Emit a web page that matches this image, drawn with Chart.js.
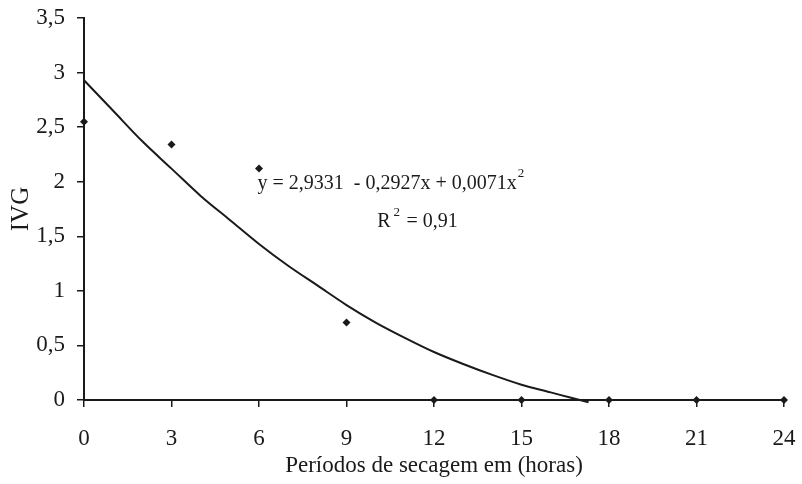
<!DOCTYPE html>
<html>
<head>
<meta charset="utf-8">
<script src="https://cdn.jsdelivr.net/npm/chart.js@4.4.0/dist/chart.umd.min.js"></script>
<style>
  html, body { margin: 0; padding: 0; background: #ffffff; }
  #wrap { width: 802px; height: 484px; }
</style>
</head>
<body>
<div id="wrap"><canvas id="c" width="802" height="484"></canvas></div>
<script>
const periods = [0, 3, 6, 9, 12, 15, 18, 21, 24];
const ivg = [2.55, 2.34, 2.12, 0.71, 0, 0, 0, 0, 0];

// Fitted trend line
const trendX = [0, 1, 2, 3, 4, 5, 6, 7, 8, 9, 10, 11, 12, 13, 14, 15, 16, 16.7, 17.3];
const trendY = [2.93, 2.65, 2.37, 2.12, 1.87, 1.65, 1.43, 1.23, 1.05, 0.87, 0.71, 0.57, 0.44, 0.33, 0.23, 0.14, 0.07, 0.02, -0.02];

const xTickStep = 3;
const yTickStep = 0.5;
const xTitle = 'Períodos de secagem em (horas)';
const yTitle = 'IVG';
const eqText = 'y = 2,9331  - 0,2927x + 0,0071x';
const r2Text = 'R';
const r2Value = ' = 0,91';

const FONT = '"Liberation Serif", "Times New Roman", serif';
const INK = '#1a1a1a';

const annotation = {
  id: 'annotation',
  afterDraw(chart) {
    const ctx = chart.ctx;
    const xs = chart.scales.x, ys = chart.scales.y;
    ctx.save();
    ctx.fillStyle = INK;
    ctx.textBaseline = 'middle';
    ctx.textAlign = 'left';
    // equation
    let x0 = xs.getPixelForValue(5.95), y0 = ys.getPixelForValue(1.98);
    ctx.font = '20px ' + FONT;
    ctx.fillText(eqText, x0, y0);
    let w = ctx.measureText(eqText).width;
    ctx.font = '13px ' + FONT;
    ctx.fillText('2', x0 + w + 1, y0 - 10);
    // R^2
    let x1 = xs.getPixelForValue(10.05), y1 = ys.getPixelForValue(1.63);
    ctx.font = '20px ' + FONT;
    ctx.fillText(r2Text, x1, y1);
    let wr = ctx.measureText(r2Text).width;
    ctx.font = '13px ' + FONT;
    ctx.fillText('2', x1 + wr + 3, y1 - 10);
    ctx.font = '20px ' + FONT;
    ctx.fillText(r2Value, x1 + wr + 11, y1);
    ctx.restore();
  }
};

new Chart(document.getElementById('c'), {
  type: 'scatter',
  data: {
    datasets: [
      {
        label: 'IVG',
        data: periods.map((p, i) => ({ x: p, y: ivg[i] })),
        showLine: false,
        pointStyle: 'rectRot',
        pointRadius: 4,
        pointBackgroundColor: INK,
        pointBorderColor: INK,
        pointBorderWidth: 0,
        clip: false,
        order: 1
      },
      {
        label: 'Trend',
        data: trendX.map((p, i) => ({ x: p, y: trendY[i] })),
        showLine: true,
        borderColor: INK,
        borderWidth: 2,
        pointRadius: 0,
        tension: 0.4,
        cubicInterpolationMode: 'monotone',
        clip: false,
        order: 2
      }
    ]
  },
  options: {
    responsive: false,
    animation: false,
    events: [],
    layout: { padding: 0 },
    plugins: { legend: { display: false }, tooltip: { enabled: false } },
    scales: {
      x: {
        type: 'linear',
        min: 0, max: 24,
        afterFit(s) { s.height = 84; s.paddingLeft = 0; s.paddingRight = 18; },
        ticks: {
          stepSize: xTickStep,
          color: INK,
          padding: 18,
          font: { family: FONT, size: 23 },
          maxRotation: 0
        },
        grid: { display: true, drawOnChartArea: false, drawTicks: true, tickLength: 7, color: INK, lineWidth: 1.5 },
        border: { display: true, color: INK, width: 2 },
        title: { display: true, text: xTitle, color: INK, font: { family: FONT, size: 23 }, padding: { top: 0, bottom: 4 } }
      },
      y: {
        type: 'linear',
        min: 0, max: 3.5,
        afterFit(s) { s.width = 84; s.paddingTop = 18; s.paddingBottom = 0; },
        ticks: {
          stepSize: yTickStep,
          color: INK,
          padding: 12,
          font: { family: FONT, size: 23 },
          callback: (v) => String(v).replace('.', ',')
        },
        grid: { display: true, drawOnChartArea: false, drawTicks: true, tickLength: 7, color: INK, lineWidth: 1.5 },
        border: { display: true, color: INK, width: 2 },
        title: { display: true, text: yTitle, color: INK, font: { family: FONT, size: 25 }, padding: { top: 6, bottom: 0 } }
      }
    }
  },
  plugins: [annotation]
});
</script>
</body>
</html>
